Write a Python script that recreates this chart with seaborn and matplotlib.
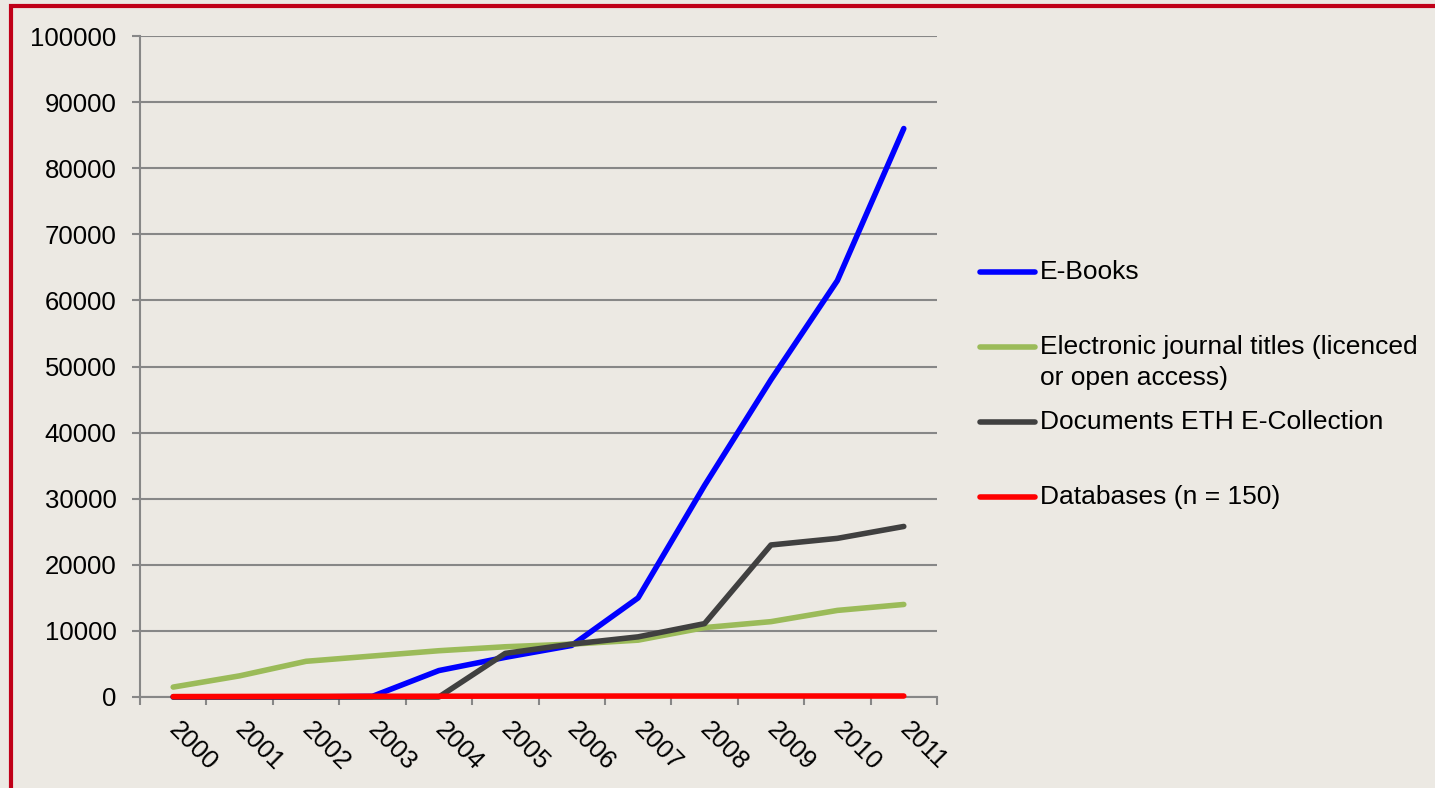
import pandas as pd
import matplotlib.pyplot as plt
import matplotlib.transforms as mtransforms
import seaborn as sns
from matplotlib.lines import Line2D
from matplotlib.patches import Rectangle

# data
years = ["2000", "2001", "2002", "2003", "2004", "2005",
         "2006", "2007", "2008", "2009", "2010", "2011"]
ebooks = [0, 0, 0, 100, 4000, 6000, 7800, 15000, 32000, 48000, 63000, 86000]
journals = [1500, 3200, 5400, 6200, 7000, 7600, 8000, 8600, 10500, 11400, 13100, 14000]
eth_docs = [0, 0, 0, 0, 0, 6600, 8000, 9100, 11100, 23000, 24000, 25800]
databases = [60, 80, 100, 110, 120, 130, 140, 145, 148, 150, 150, 150]

series_names = ["E-Books",
                "Electronic journal titles (licenced\nor open access)",
                "Documents ETH E-Collection",
                "Databases (n = 150)"]
series_values = [ebooks, journals, eth_docs, databases]
colors = ["#0000FF", "#9BBB59", "#404040", "#FF0000"]

rows = []
for name, vals in zip(series_names, series_values):
    for i, v in enumerate(vals):
        rows.append({"idx": i, "value": v, "series": name})
df = pd.DataFrame(rows)

bg = "#ECE9E3"
sns.set_theme(style="white")
plt.rcParams["font.family"] = ["Liberation Sans", "DejaVu Sans"]
plt.rcParams["text.color"] = "black"
plt.rcParams["xtick.color"] = "black"
plt.rcParams["ytick.color"] = "black"

fig = plt.figure(figsize=(14.35, 7.88), dpi=100, facecolor=bg)
ax = fig.add_axes([140 / 1435, 1 - 697 / 788, 797 / 1435, 661 / 788])
ax.set_facecolor(bg)

sns.lineplot(data=df, x="idx", y="value", hue="series", palette=colors,
             hue_order=series_names, linewidth=4.0, sort=False,
             legend=False, ax=ax, solid_capstyle="round")
for ln in ax.get_lines():
    ln.set_clip_on(False)
    ln.set_zorder(3)

ax.set_xlim(-0.5, 11.5)
ax.set_ylim(0, 100000)
ax.set_yticks(range(0, 100001, 10000))
ax.set_yticklabels([str(v) for v in range(0, 100001, 10000)], fontsize=18.5)
ax.set_xticks(range(len(years)))
ax.set_xticklabels(years, rotation=-45, ha="left", va="top", fontsize=18.5)
ax.set_xticks([k - 0.5 for k in range(len(years) + 1)], minor=True)
ax.tick_params(axis="x", which="major", length=0, pad=15)
ax.tick_params(axis="x", which="minor", length=6, width=1.5, color="#878787",
               direction="out", bottom=True)
ax.tick_params(axis="y", length=6, width=1.5, color="#878787",
               direction="out", left=True, pad=11)
# nudge the rotated year labels to the left
shift = mtransforms.ScaledTranslation(-9 / 100, 0, fig.dpi_scale_trans)
for lab in ax.get_xticklabels():
    lab.set_transform(lab.get_transform() + shift)
ax.set_xlabel("")
ax.set_ylabel("")
ax.grid(axis="y", color="#878787", linewidth=1.5)
ax.set_axisbelow(True)
for side in ["top", "right"]:
    ax.spines[side].set_visible(False)
for side in ["left", "bottom"]:
    ax.spines[side].set_color("#878787")
    ax.spines[side].set_linewidth(1.5)

# legend drawn by hand to match the layout
leg_y = [272, 347, 422, 497]
for name, col, y in zip(series_names, colors, leg_y):
    fy = 1 - y / 788
    fig.add_artist(Line2D([980 / 1435, 1035 / 1435], [fy, fy], color=col,
                          linewidth=4.0, solid_capstyle="round"))
    fig.text(1040 / 1435, fy + 12 / 788, name, fontsize=19, va="top",
             ha="left", linespacing=1.35)

# red frame on top and left edge
fig.add_artist(Rectangle((11 / 1435, -0.1), 1.2, 1.1 - 6 / 788,
                         transform=fig.transFigure, fill=False,
                         edgecolor="#C00018", linewidth=3))

fig.savefig("out.png", dpi=100, facecolor=bg)
